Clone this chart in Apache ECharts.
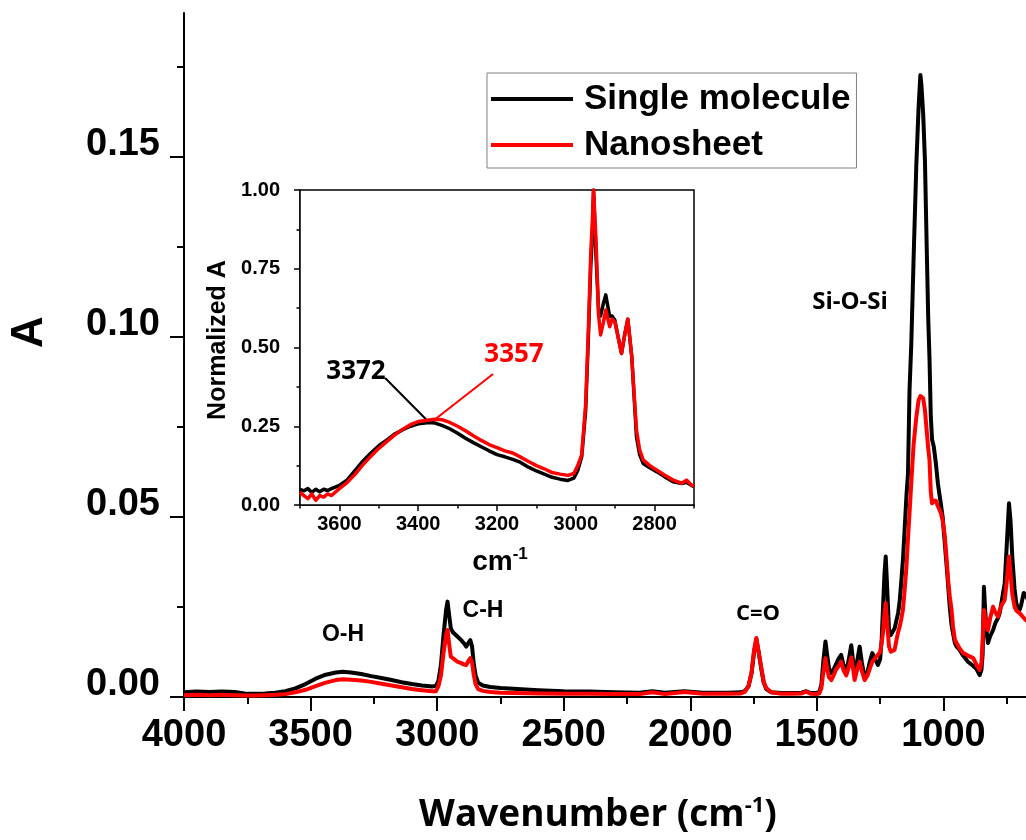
<!DOCTYPE html>
<html><head><meta charset="utf-8">
<script src="https://cdn.jsdelivr.net/npm/echarts@6/dist/echarts.min.js"></script>
<style>html,body{margin:0;padding:0;background:#fff}#c{width:1026px;height:840px}</style>
</head><body><div id="c"></div>
<script>
// ---------- DATA ----------
const seriesNames = ['Single molecule', 'Nanosheet'];

const mainWn = [4000,3950,3900,3850,3800,3760,3720,3680,3640,3600,3560,3520,3480,3440,3400,3373,3340,3300,3260,3220,3180,3140,3100,3060,3020,3005,2995,2985,2975,2965,2959,2953,2946,2938,2931,2920,2905,2893,2885,2875,2869,2862,2855,2848,2838,2820,2790,2750,2700,2600,2500,2400,2300,2200,2150,2100,2023,1950,1850,1800,1785,1770,1758,1748,1739,1730,1720,1710,1700,1680,1640,1600,1560,1542,1525,1500,1490,1482,1475,1466,1460,1452,1443,1435,1425,1415,1404,1395,1384,1375,1364,1357,1351,1343,1331,1322,1311,1300,1290,1281,1270,1259,1250,1244,1239,1233,1228,1222,1215,1208,1201,1193,1185,1179,1173,1167,1160,1154,1146,1140,1134,1127,1118,1107,1098,1091,1087,1080,1073,1065,1060,1055,1050,1045,1038,1030,1022,1010,1003,995,988,982,975,968,962,955,948,936,922,903,882,870,857,850,845,840,835,828,824,815,804,795,784,778,770,758,750,741,735,728,719,712,705,699,693,683,675,660];
const mainSingle = [.0013,.0015,.0014,.0015,.0014,.0010,.0009,.0010,.0012,.0016,.0024,.0036,.0051,.0062,.0068,.0070,.0068,.0064,.0058,.0053,.0047,.0041,.0036,.0032,.0029,.0031,.0045,.0090,.0170,.0240,.0265,.0230,.0190,.0180,.0178,.0168,.0158,.0148,.0140,.0152,.0158,.0140,.0090,.0060,.0040,.0032,.0028,.0025,.0023,.0019,.0016,.0015,.0013,.0012,.0016,.0012,.0016,.0012,.0012,.0013,.0016,.0030,.0066,.0125,.0160,.0125,.0080,.0040,.0022,.0013,.0011,.0011,.0012,.0016,.0011,.0012,.0014,.0035,.0095,.0154,.0120,.0080,.0066,.0075,.0090,.0105,.0117,.0090,.0066,.0100,.0144,.0100,.0061,.0090,.0140,.0095,.0052,.0070,.0100,.0122,.0105,.0089,.0105,.0160,.0242,.0340,.0390,.0300,.0186,.0172,.0168,.0190,.0215,.0233,.0265,.0316,.0380,.0455,.0560,.0620,.0850,.0980,.1214,.1480,.1640,.1728,.1700,.1620,.1490,.1214,.1050,.0940,.0780,.0715,.0695,.0650,.0594,.0535,.0500,.0430,.0370,.0316,.0250,.0200,.0177,.0150,.0140,.0131,.0115,.0098,.0086,.0078,.0061,.0075,.0120,.0306,.0240,.0170,.0150,.0170,.0186,.0205,.0220,.0233,.0265,.0316,.0420,.0538,.0490,.0390,.0300,.0260,.0248,.0242,.0255,.0289,.0283,.0260];
const mainNano = [.0005,.0006,.0005,.0006,.0005,.0004,.0004,.0005,.0006,.0008,.0013,.0020,.0030,.0040,.0047,.0049,.0048,.0046,.0042,.0037,.0032,.0027,.0022,.0019,.0016,.0016,.0030,.0060,.0120,.0170,.0186,.0150,.0112,.0108,.0103,.0098,.0094,.0090,.0089,.0102,.0108,.0095,.0060,.0035,.0022,.0017,.0014,.0012,.0011,.0010,.0009,.0009,.0008,.0008,.0013,.0008,.0014,.0009,.0009,.0010,.0014,.0030,.0068,.0130,.0164,.0125,.0084,.0042,.0025,.0013,.0009,.0009,.0010,.0015,.0009,.0008,.0010,.0025,.0065,.0108,.0080,.0055,.0047,.0058,.0075,.0085,.0098,.0075,.0060,.0080,.0110,.0080,.0047,.0070,.0098,.0072,.0047,.0060,.0080,.0098,.0108,.0117,.0125,.0150,.0177,.0230,.0261,.0200,.0140,.0126,.0125,.0131,.0160,.0180,.0195,.0215,.0242,.0290,.0362,.0440,.0510,.0594,.0700,.0778,.0825,.0836,.0839,.0830,.0797,.0730,.0690,.0658,.0570,.0538,.0545,.0545,.0530,.0511,.0490,.0450,.0390,.0330,.0280,.0242,.0195,.0160,.0150,.0135,.0122,.0115,.0108,.0090,.0075,.0095,.0160,.0242,.0220,.0195,.0186,.0220,.0251,.0235,.0223,.0240,.0255,.0270,.0320,.0390,.0345,.0285,.0251,.0240,.0235,.0233,.0228,.0220,.0214,.0205];

const insetWn = [3700,3690,3680,3670,3660,3650,3640,3630,3620,3600,3580,3560,3540,3520,3500,3480,3460,3440,3420,3400,3372,3357,3340,3320,3300,3280,3260,3240,3220,3200,3180,3160,3140,3120,3100,3080,3060,3040,3020,3005,2995,2985,2975,2968,2962,2958,2955,2949,2942,2937,2930,2924,2914,2908,2901,2892,2884,2876,2868,2858,2846,2838,2829,2812,2795,2775,2753,2731,2719,2706,2700];
const insetSingle = [.050,.045,.052,.040,.050,.042,.050,.046,.052,.062,.080,.110,.140,.165,.188,.206,.225,.238,.250,.258,.262,.260,.253,.242,.228,.212,.198,.185,.172,.160,.153,.145,.135,.120,.108,.098,.088,.082,.078,.085,.110,.153,.300,.534,.760,.852,1.00,.800,.610,.600,.640,.667,.598,.600,.587,.530,.481,.540,.590,.471,.217,.160,.132,.118,.106,.090,.074,.068,.072,.062,.058];
const insetNano = [.040,.030,.020,.035,.015,.030,.025,.035,.030,.052,.072,.098,.128,.155,.180,.201,.222,.240,.255,.265,.270,.272,.271,.262,.250,.236,.220,.205,.192,.182,.172,.165,.152,.138,.125,.115,.103,.098,.094,.100,.125,.160,.320,.560,.800,.900,1.00,.850,.600,.540,.580,.619,.566,.590,.582,.530,.481,.540,.590,.471,.238,.175,.143,.125,.111,.095,.079,.069,.079,.063,.060];

const mainXTicks = [1000,1500,2000,2500,3000,3500,4000];
const mainXMinor = [750,1250,1750,2250,2750,3250,3750];
const mainYTicks = [0,0.05,0.10,0.15];
const mainYMinor = [0.025,0.075,0.125,0.175];
const insetXTicks = [2800,3000,3200,3400,3600];
const insetXMinor = [2700,2900,3100,3300,3500,3700];
const insetYTicks = [0,0.25,0.50,0.75,1.00];
const insetYMinor = [0.125,0.375,0.625,0.875];

const peakLabels = ['O-H','C-H','C=O','Si-O-Si'];
const insetPeaks = [3372, 3357];

// ---------- CHART ----------
const ARIAL = "'Liberation Sans', Arial, sans-serif";
const SOFT = "'Open Sans', 'Noto Sans', sans-serif";
const BLACK = '#000000', RED = '#ff0000';
const pairs = (xs, ys) => xs.map((x, i) => [x, ys[i]]);
const plain = v => String(Math.round(v));

const chart = echarts.init(document.getElementById('c'), null, {renderer: 'canvas'});

function tickAxis(o) { return Object.assign({type: 'value', splitLine: {show: false}}, o); }

const option = {
  backgroundColor: '#ffffff',
  animation: false,
  grid: [
    {left: 184, top: 13, width: 886, height: 684, outerBoundsMode: 'none'},
    {left: 300, top: 190, width: 394, height: 315, show: true, backgroundColor: '#fff', borderColor: '#000', borderWidth: 1.5, outerBoundsMode: 'none', z: 5}
  ],
  legend: {
    orient: 'vertical', left: 487, top: 73,
    padding: [6, 6, 3, 4], itemGap: 6,
    itemWidth: 82, itemHeight: 4, icon: 'rect',
    borderColor: '#808080', borderWidth: 1, backgroundColor: '#fff',
    data: seriesNames,
    textStyle: {fontFamily: ARIAL, fontWeight: 'bold', fontSize: 35, lineHeight: 40, color: '#000', padding: [0, 0, 0, 6]}
  },
  xAxis: [
    tickAxis({gridIndex: 0, min: 500, max: 4000, inverse: true, position: 'bottom',
      axisLine: {lineStyle: {color: BLACK, width: 2}},
      axisTick: {customValues: mainXTicks, length: 14, lineStyle: {color: BLACK, width: 2}},
      axisLabel: {customValues: mainXTicks, formatter: plain, margin: 20, fontFamily: ARIAL, fontWeight: 'bold', fontSize: 38, color: BLACK}}),
    tickAxis({gridIndex: 0, min: 500, max: 4000, inverse: true, position: 'bottom',
      axisLine: {show: false},
      axisTick: {customValues: mainXMinor, length: 7, lineStyle: {color: BLACK, width: 2}},
      axisLabel: {show: false}}),
    tickAxis({gridIndex: 1, min: 2700, max: 3700, inverse: true, position: 'bottom',
      axisLine: {lineStyle: {color: BLACK, width: 1.5}},
      axisTick: {customValues: insetXTicks, length: 6, lineStyle: {color: BLACK, width: 1.5}},
      axisLabel: {customValues: insetXTicks, formatter: plain, margin: 9, fontFamily: ARIAL, fontWeight: 'bold', fontSize: 20, color: BLACK}}),
    tickAxis({gridIndex: 1, min: 2700, max: 3700, inverse: true, position: 'bottom',
      axisLine: {show: false},
      axisTick: {customValues: insetXMinor, length: 3.5, lineStyle: {color: BLACK, width: 1.5}},
      axisLabel: {show: false}})
  ],
  yAxis: [
    tickAxis({gridIndex: 0, min: 0, max: 0.19, position: 'left',
      axisLine: {lineStyle: {color: BLACK, width: 2}},
      axisTick: {customValues: mainYTicks, length: 14, lineStyle: {color: BLACK, width: 2}},
      axisLabel: {customValues: mainYTicks, margin: 24, verticalAlign: 'bottom', lineHeight: 24,
        formatter: v => v.toFixed(2), fontFamily: ARIAL, fontWeight: 'bold', fontSize: 38, color: BLACK}}),
    tickAxis({gridIndex: 0, min: 0, max: 0.19, position: 'left',
      axisLine: {show: false},
      axisTick: {customValues: mainYMinor, length: 7, lineStyle: {color: BLACK, width: 2}},
      axisLabel: {show: false}}),
    tickAxis({gridIndex: 1, min: 0, max: 1, position: 'left',
      axisLine: {lineStyle: {color: BLACK, width: 1.5}},
      axisTick: {customValues: insetYTicks, length: 6, lineStyle: {color: BLACK, width: 1.5}},
      axisLabel: {customValues: insetYTicks, margin: 20, formatter: v => v.toFixed(2),
        fontFamily: ARIAL, fontWeight: 'bold', fontSize: 20, color: BLACK}}),
    tickAxis({gridIndex: 1, min: 0, max: 1, position: 'left',
      axisLine: {show: false},
      axisTick: {customValues: insetYMinor, length: 3.5, lineStyle: {color: BLACK, width: 1.5}},
      axisLabel: {show: false}})
  ],
  series: [
    {name: seriesNames[0], type: 'line', xAxisIndex: 0, yAxisIndex: 0, data: pairs(mainWn, mainSingle),
      symbol: 'none', color: BLACK, lineStyle: {width: 4, join: 'round'}, z: 2},
    {name: seriesNames[1], type: 'line', xAxisIndex: 0, yAxisIndex: 0, data: pairs(mainWn, mainNano),
      symbol: 'none', color: RED, lineStyle: {width: 4, join: 'round'}, z: 3},
    {name: seriesNames[0], type: 'line', xAxisIndex: 2, yAxisIndex: 2, data: pairs(insetWn, insetSingle),
      symbol: 'none', color: BLACK, lineStyle: {width: 3.5, join: 'round'}, z: 6,
      markLine: {silent: true, symbol: 'none', label: {show: false}, lineStyle: {color: BLACK, width: 2, type: 'solid'},
        data: [[{coord: [insetPeaks[0], 0.262]}, {coord: [3484, 0.403]}]]}},
    {name: seriesNames[1], type: 'line', xAxisIndex: 2, yAxisIndex: 2, data: pairs(insetWn, insetNano),
      symbol: 'none', color: RED, lineStyle: {width: 3.5, join: 'round'}, z: 7,
      markLine: {silent: true, symbol: 'none', label: {show: false}, lineStyle: {color: RED, width: 2, type: 'solid'},
        data: [[{coord: [insetPeaks[1], 0.272]}, {coord: [3210, 0.416]}]]}}
  ],
  graphic: [
    {type: 'text', x: 30, y: 332, rotation: Math.PI / 2, z: 100,
      style: {text: 'A', font: "bold 44px " + ARIAL, fill: BLACK, align: 'center', verticalAlign: 'middle'}},
    {type: 'text', x: 598, y: 815, z: 100,
      style: {text: '{a|Wavenumber (cm}{s|-1}{a|)}', align: 'center', verticalAlign: 'middle', fill: BLACK,
        rich: {a: {font: "bold 37px " + SOFT, lineHeight: 42, fill: BLACK, verticalAlign: 'middle'},
               s: {font: "bold 22px " + SOFT, lineHeight: 42, fill: BLACK, verticalAlign: 'top', padding: [1, 0, 0, 0]}}}},
    {type: 'text', x: 218, y: 340, rotation: Math.PI / 2, z: 100,
      style: {text: 'Normalized A', font: "bold 25px " + ARIAL, fill: BLACK, align: 'center', verticalAlign: 'middle'}},
    {type: 'text', x: 500, y: 562, z: 100,
      style: {text: '{a|cm}{s|-1}', align: 'center', verticalAlign: 'middle', fill: BLACK,
        rich: {a: {font: "bold 28px " + ARIAL, lineHeight: 32, fill: BLACK, verticalAlign: 'middle'},
               s: {font: "bold 17px " + ARIAL, lineHeight: 32, fill: BLACK, verticalAlign: 'top'}}}},
    {type: 'text', x: 343, y: 635, z: 100,
      style: {text: peakLabels[0], font: "bold 23px " + ARIAL, fill: BLACK, align: 'center', verticalAlign: 'middle'}},
    {type: 'text', x: 483, y: 611, z: 100,
      style: {text: peakLabels[1], font: "bold 23px " + ARIAL, fill: BLACK, align: 'center', verticalAlign: 'middle'}},
    {type: 'text', x: 758, y: 614, z: 100,
      style: {text: peakLabels[2], font: "bold 22px " + SOFT, fill: BLACK, align: 'center', verticalAlign: 'middle'}},
    {type: 'text', x: 850, y: 302, z: 100,
      style: {text: peakLabels[3], font: "bold 24px " + SOFT, fill: BLACK, align: 'center', verticalAlign: 'middle'}},
    {type: 'text', x: 356, y: 372, z: 100,
      style: {text: String(insetPeaks[0]), font: "bold 26px " + SOFT, fill: BLACK, align: 'center', verticalAlign: 'middle'}},
    {type: 'text', x: 514, y: 355, z: 100,
      style: {text: String(insetPeaks[1]), font: "bold 26px " + SOFT, fill: RED, align: 'center', verticalAlign: 'middle'}}
  ]
};
chart.setOption(option);
</script></body></html>
